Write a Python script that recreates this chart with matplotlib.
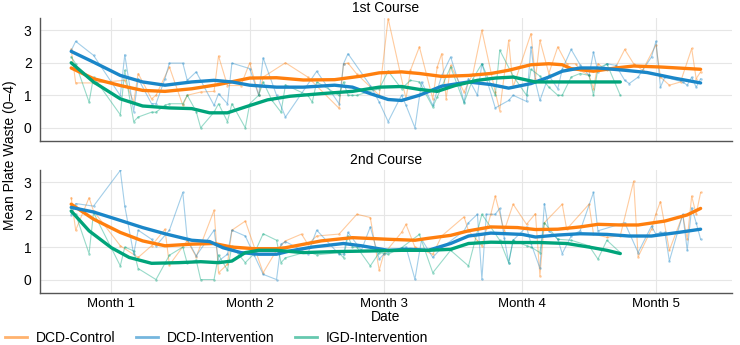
import matplotlib
matplotlib.use("Agg")
import matplotlib.pyplot as plt

plt.rcParams['font.family'] = ['Liberation Sans', 'DejaVu Sans']

# x en jours depuis le debut du mois 1
month_ticks = [0, 31, 61, 92, 122]
month_labels = ["Month 1", "Month 2", "Month 3", "Month 4", "Month 5"]
groups = ["DCD-Control", "DCD-Intervention", "IGD-Intervention"]
colors = ["#ff7f0e", "#1a86c8", "#00a47a"]

# ---- 1st Course : donnees brutes ----
c1_ctrl_x = [-9, -8, -4, 3, 5, 6, 9, 10, 13, 16, 17, 20, 23, 24, 26, 29, 31, 33, 34, 39, 44, 51, 52, 53, 55,
             60, 62, 66, 67, 69, 72, 73, 74, 75, 76, 79, 81, 83, 86, 87, 89, 90, 94, 95, 96, 98, 100, 102,
             104, 105, 107, 108, 109, 111, 113, 115, 117, 119, 122, 123, 125, 127.5, 130, 131, 132]
c1_ctrl_y = [2.42, 1.38, 1.38, 1.46, 0.79, 1.67, 0.89, 1.0, 1.87, 0.69, 1.0, 1.1, 1.12, 2.21, 1.3, 1.3, 2.0,
             1.0, 1.56, 2.0, 1.56, 0.6, 1.97, 1.99, 1.65, 1.0, 3.36, 0.89, 1.77, 2.49, 0.89, 1.87, 2.28, 0.89,
             1.92, 1.1, 1.67, 3.0, 1.1, 0.53, 2.69, 1.25, 2.9, 1.51, 2.69, 1.67, 2.49, 1.97, 1.97, 1.77, 1.61,
             1.2, 1.97, 1.77, 1.87, 2.41, 1.97, 1.77, 2.55, 1.56, 1.31, 1.41, 2.44, 1.51, 1.72]
c1_int_x = [-9, -8, -4, 2, 3, 5, 6, 9, 10, 12, 13, 16, 17, 19, 23, 24, 26, 27, 31, 33, 34, 37, 39, 46, 51,
            52, 53, 58, 60, 62, 65, 66, 68, 69.5, 72, 74, 76, 78, 79, 80, 82, 83, 86, 89, 90, 93, 94, 95,
            96, 98, 100, 101, 103, 105, 107, 108, 109, 111, 113, 115, 116, 118, 121, 122, 123, 124, 128,
            129, 130, 131, 132]
c1_int_y = [2.38, 2.66, 2.23, 0.99, 2.25, 0.5, 1.51, 0.74, 0.74, 1.51, 1.99, 1.99, 1.46, 1.72, 0.69, 1.05,
            0.74, 1.99, 1.82, 1.0, 2.15, 1.0, 0.33, 1.74, 0.74, 1.97, 2.28, 1.3, 0.79, 0.19, 1.0, 0.69, 0.0,
            1.41, 0.69, 1.61, 2.18, 1.31, 0.79, 1.51, 1.0, 1.97, 0.61, 0.84, 1.0, 0.81, 2.49, 1.41, 0.84,
            1.61, 1.2, 1.8, 2.41, 1.94, 1.61, 2.33, 1.72, 1.97, 1.92, 1.46, 1.36, 1.56, 2.18, 2.66, 1.25,
            1.56, 1.41, 1.31, 1.56, 1.25, 1.51]
c1_igd_x = [-9, -8, -5, -4, 2, 3, 5, 6, 9, 10, 12, 13, 16, 17, 19, 20, 23, 24, 26, 27, 30, 31, 33, 34, 36,
            38, 39, 44, 45, 46, 51, 52, 53, 54, 55, 60, 62, 65, 67, 69, 72, 73, 76, 79, 81, 83, 86, 87, 90,
            93, 94, 96, 98, 100, 101, 103, 105, 107, 108, 109, 111, 114]
c1_igd_y = [2.18, 1.97, 0.79, 1.56, 0.4, 1.77, 0.19, 0.33, 0.48, 0.48, 0.69, 0.74, 0.74, 1.0, 0.5, 0.0, 0.48,
            0.74, 0.19, 0.74, 0.0, 0.74, 1.0, 1.41, 0.84, 0.48, 1.32, 1.0, 0.79, 1.41, 1.0, 1.41, 1.0, 1.0,
            1.0, 1.2, 1.74, 1.2, 1.46, 1.41, 0.64, 0.95, 1.87, 0.77, 1.51, 1.97, 1.0, 2.39, 1.59, 1.0, 1.8,
            1.59, 1.25, 1.0, 1.0, 1.56, 1.67, 1.61, 1.0, 1.82, 1.97, 1.0]

# ---- 1st Course : courbes lissees ----
c1_ctrl_sx = [-9, -4, 2, 7, 12, 18, 24, 31, 37, 43, 50, 56, 60, 65, 69, 74, 80, 85, 89, 94, 98, 101, 103,
              108, 113, 117, 123, 132]
c1_ctrl_sy = [1.84, 1.51, 1.3, 1.15, 1.12, 1.2, 1.33, 1.53, 1.54, 1.47, 1.48, 1.59, 1.69, 1.72, 1.67, 1.58,
              1.61, 1.67, 1.77, 1.94, 1.97, 1.94, 1.82, 1.74, 1.84, 1.9, 1.87, 1.8]
c1_int_sx = [-9, -4, 2, 7, 12, 18, 23, 27, 31, 37, 43, 50, 54, 58, 62, 65, 69, 74, 80, 85, 89, 94, 98, 101,
             105, 109, 115, 120, 126, 132]
c1_int_sy = [2.35, 2.02, 1.61, 1.41, 1.31, 1.41, 1.46, 1.41, 1.31, 1.25, 1.25, 1.31, 1.25, 1.05, 0.87, 0.84,
             1.0, 1.28, 1.41, 1.33, 1.22, 1.36, 1.56, 1.74, 1.84, 1.84, 1.77, 1.7, 1.53, 1.38]
c1_igd_sx = [-9, -4, 2, 7, 13, 18, 22, 26, 30, 35, 40, 47, 54, 60, 65, 69, 73, 77, 82, 86, 90, 95, 101, 114]
c1_igd_sy = [2.0, 1.41, 0.89, 0.67, 0.61, 0.59, 0.46, 0.46, 0.64, 0.86, 0.97, 1.05, 1.12, 1.25, 1.27, 1.18,
             1.12, 1.3, 1.46, 1.53, 1.56, 1.41, 1.41, 1.41]

# ---- 2nd Course : donnees brutes ----
c2_ctrl_x = [-9, -8, -5, -4, 2, 6, 9, 12, 13, 17, 19, 23, 24, 26, 27, 30, 34, 37, 39, 42.6, 44, 46, 51, 55,
             58, 60, 61, 65, 66, 68, 72, 74, 79, 80, 82, 83, 85, 86, 88, 90, 93, 95, 96, 97, 101, 102, 107,
             108, 111, 114, 117, 118, 121, 122, 123, 125, 128, 129, 130, 131, 132]
c2_ctrl_y = [2.52, 1.52, 2.52, 2.11, 1.04, 0.68, 1.04, 1.55, 0.45, 1.2, 0.7, 2.13, 0.21, 0.47, 1.52, 1.8,
             0.21, 0.9, 1.19, 1.4, 1.09, 1.34, 1.4, 2.01, 1.91, 0.29, 0.78, 1.45, 1.7, 1.0, 0.78, 1.34, 1.93,
             1.5, 1.2, 1.04, 2.01, 2.57, 1.5, 2.32, 1.7, 2.03, 0.11, 1.75, 2.32, 1.55, 2.32, 1.4, 1.3, 1.35,
             3.03, 0.7, 1.55, 2.03, 2.4, 0.9, 1.99, 1.24, 2.57, 2.01, 2.68]
c2_int_x = [-9, -8, -4, 2, 3, 5, 6, 9, 10, 13, 16, 17, 19, 23, 24, 26, 27, 30, 32, 34, 37, 38, 39, 44, 46,
            51, 52, 53, 56, 58, 60, 61, 65, 66, 68, 69.5, 72, 74, 79, 80, 82, 83, 84, 86, 87, 88, 89, 90,
            93, 94, 96, 97, 98, 100, 101, 103, 105, 108, 109, 115, 118, 121, 122, 123, 124, 125, 128, 129,
            130, 131, 132]
c2_int_y = [2.0, 2.34, 2.26, 3.36, 2.26, 0.78, 1.52, 1.24, 1.04, 1.52, 2.68, 1.24, 0.73, 1.52, 0.57, 0.78,
            1.52, 1.34, 0.75, 0.16, 0.0, 1.09, 1.17, 0.8, 1.52, 0.78, 0.78, 1.45, 0.9, 1.62, 0.63, 0.78, 0.98,
            1.0, 0.01, 1.24, 0.68, 0.98, 1.5, 1.75, 2.01, 0.01, 2.01, 2.01, 2.19, 1.29, 0.52, 1.21, 1.62,
            1.11, 0.35, 2.34, 1.5, 1.24, 0.8, 1.34, 1.5, 2.68, 1.5, 1.75, 0.83, 1.65, 1.39, 1.45, 1.45, 0.57,
            2.01, 0.9, 2.21, 1.75, 1.24]
c2_igd_x = [-9, -8, -5, -4, 2, 3, 5, 6, 10, 12, 13, 16, 17, 19, 20, 23, 24, 26, 27, 30, 32, 34, 37, 38, 39,
            44, 46, 51, 52, 53, 54, 55, 58, 60, 62, 65, 69, 72, 76, 80, 83, 87, 89, 90, 93, 94, 96, 97, 100,
            103, 107, 109, 111, 114]
c2_igd_y = [2.08, 2.01, 0.8, 2.06, 0.42, 1.0, 0.88, 0.34, 0.0, 0.5, 0.75, 1.0, 0.5, 0.6, 0.0, 0.0, 0.76,
            0.29, 1.03, 0.52, 0.8, 1.41, 1.21, 0.52, 0.67, 0.86, 0.76, 0.83, 0.67, 1.34, 1.0, 1.0, 0.42, 0.83,
            0.78, 0.98, 1.39, 0.21, 0.9, 0.42, 2.01, 1.21, 0.52, 1.21, 1.04, 1.0, 0.83, 1.75, 1.24, 1.21,
            1.04, 0.63, 1.21, 0.83]

# ---- 2nd Course : courbes lissees ----
c2_ctrl_sx = [-9, -4, 2, 7, 12, 18, 23, 27, 32, 37, 39, 47, 54, 62, 68, 71, 76, 80, 85, 91, 95, 100, 105,
              109, 114, 118, 124, 129, 132]
c2_ctrl_sy = [2.32, 1.86, 1.45, 1.19, 1.04, 1.09, 1.11, 1.0, 0.95, 0.95, 0.98, 1.19, 1.29, 1.24, 1.21, 1.27,
              1.36, 1.5, 1.62, 1.6, 1.54, 1.55, 1.62, 1.7, 1.68, 1.68, 1.8, 1.99, 2.19]
c2_int_sx = [-9, -4, 2, 7, 12, 18, 22, 25, 29, 33, 37, 40, 45, 52, 56, 62, 67, 71, 76, 80, 85, 92, 95, 100,
             105, 111, 116, 121, 127, 132]
c2_int_sy = [2.22, 2.08, 1.82, 1.6, 1.41, 1.21, 1.17, 0.98, 0.83, 0.78, 0.78, 0.88, 1.0, 1.11, 1.04, 0.9,
             0.93, 0.9, 1.11, 1.34, 1.43, 1.39, 1.31, 1.37, 1.41, 1.39, 1.34, 1.34, 1.45, 1.55]
c2_igd_sx = [-9, -5, 0, 4, 9, 15, 20, 24, 27, 30, 33, 37, 43, 50, 58, 65, 71, 76, 80, 85, 90, 96, 102, 107,
             111, 114]
c2_igd_sy = [2.11, 1.5, 0.98, 0.68, 0.5, 0.52, 0.55, 0.52, 0.57, 0.83, 0.9, 0.9, 0.83, 0.86, 0.88, 0.9, 0.9,
             0.93, 1.11, 1.15, 1.14, 1.14, 1.11, 1.0, 0.9, 0.8]

panels = [
    ("1st Course",
     [(c1_ctrl_x, c1_ctrl_y), (c1_int_x, c1_int_y), (c1_igd_x, c1_igd_y)],
     [(c1_ctrl_sx, c1_ctrl_sy), (c1_int_sx, c1_int_sy), (c1_igd_sx, c1_igd_sy)]),
    ("2nd Course",
     [(c2_ctrl_x, c2_ctrl_y), (c2_int_x, c2_int_y), (c2_igd_x, c2_igd_y)],
     [(c2_ctrl_sx, c2_ctrl_sy), (c2_int_sx, c2_int_sy), (c2_igd_sx, c2_igd_sy)]),
]

fig = plt.figure(figsize=(7.4, 3.45), dpi=100)
ax1 = fig.add_axes([0.054, 0.592, 0.935, 0.356])
ax2 = fig.add_axes([0.054, 0.152, 0.935, 0.356])

for ax, (title, raw, smooth) in zip([ax1, ax2], panels):
    for (x, y), col, lab in zip(raw, colors, groups):
        ax.plot(x, y, color=col, lw=0.8, alpha=0.4, marker="o", ms=1.8,
                markeredgewidth=0, label=lab)
    for (x, y), col in zip(smooth, colors):
        ax.plot(x, y, color=col, lw=2.4, solid_capstyle="round", zorder=3)
    ax.set_xlim(-16, 139)
    ax.set_ylim(-0.4, 3.38)
    ax.set_yticks([0, 1, 2, 3])
    ax.set_xticks(month_ticks)
    ax.grid(True, color="#e6e6e6", lw=0.8)
    ax.set_axisbelow(True)
    for s in ["top", "right"]:
        ax.spines[s].set_visible(False)
    for s in ["left", "bottom"]:
        ax.spines[s].set_color("#555555")
        ax.spines[s].set_linewidth(1.0)
    ax.tick_params(length=0, labelsize=10, pad=6)
    ax.set_title(title, fontsize=10, pad=4)

ax1.set_xticklabels([])
ax2.set_xticklabels(month_labels, fontsize=9.5)
ax2.tick_params(axis="x", pad=4)
ax2.set_xlabel("Date", fontsize=10, labelpad=0)
fig.text(0.014, 0.55, "Mean Plate Waste (0\u20134)", rotation=90, va="center",
         ha="center", fontsize=10)

handles, labels = ax1.get_legend_handles_labels()
leg = fig.legend(handles, labels, loc="lower left", bbox_to_anchor=(0.004, -0.005), ncol=3,
                 frameon=False, fontsize=10, handlelength=1.6, columnspacing=1.5,
                 handletextpad=0.6, borderaxespad=0.0, borderpad=0.15)
for h in leg.get_lines():
    h.set_marker("")
    h.set_linewidth(2)
    h.set_alpha(0.6)

fig.savefig("out.png", dpi=100)
